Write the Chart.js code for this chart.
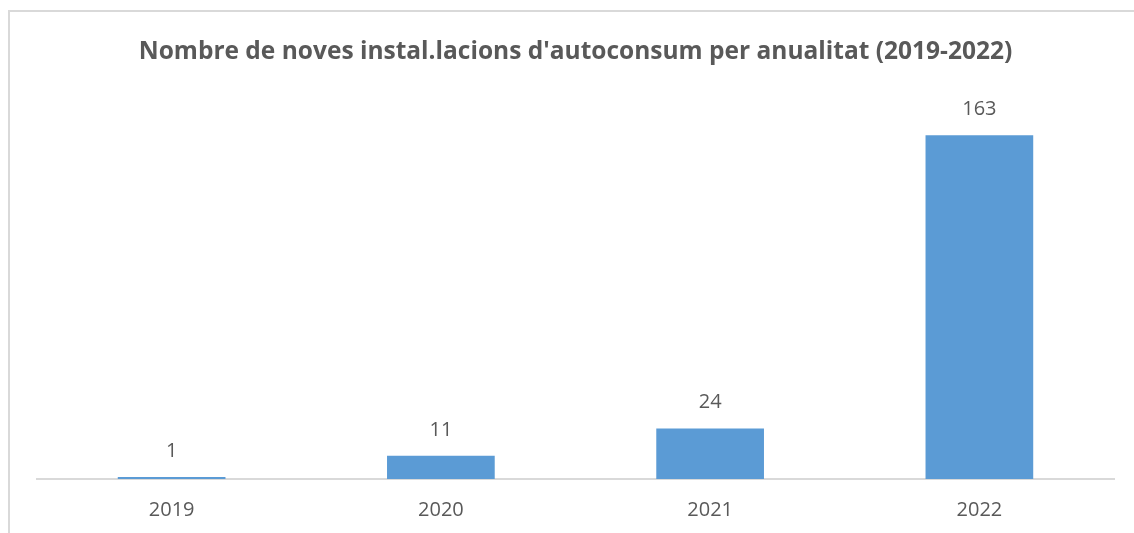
<!DOCTYPE html>
<html>
<head>
<meta charset="utf-8">
<script src="https://cdn.jsdelivr.net/npm/chart.js@4"></script>
<style>
    html, body { margin: 0; padding: 0; background: #fff; }
    #wrap { position: relative; width: 1134px; height: 533px; overflow: hidden; }
    #frame { position: absolute; left: 8px; top: 10px; width: 1140px; height: 522px; border-left: 2px solid #d9d9d9; border-top: 2px solid #d9d9d9; border-bottom: 2px solid #d9d9d9; }
    #chart { position: absolute; left: 0; top: 0; }
</style>
</head>
<body>
<div id="wrap">
    <div id="frame"></div>
    <canvas id="chart" width="1134" height="533"></canvas>
</div>
<script>
const years = ["2019", "2020", "2021", "2022"];
const installs = [1, 11, 24, 163];
const titleText = "Nombre de noves instal.lacions d'autoconsum per anualitat (2019-2022)";

const fontFamily = "'Open Sans', sans-serif";
const textGrey = "#595959";

// etiquetes de valor sobre cada barra
const valueLabels = {
    id: "valueLabels",
    afterDatasetsDraw(chart) {
        const ctx = chart.ctx;
        const meta = chart.getDatasetMeta(0);
        ctx.save();
        ctx.font = "20px " + fontFamily;
        ctx.fillStyle = textGrey;
        ctx.textAlign = "center";
        ctx.textBaseline = "middle";
        meta.data.forEach((bar, i) => {
            ctx.fillText(String(installs[i]), bar.x, bar.y - 26);
        });
        ctx.restore();
    }
};

new Chart(document.getElementById("chart"), {
    type: "bar",
    data: {
        labels: years,
        datasets: [{
            data: installs,
            backgroundColor: "#5b9bd5",
            borderWidth: 0,
            categoryPercentage: 1,
            barPercentage: 0.4
        }]
    },
    options: {
        responsive: false,
        animation: false,
        devicePixelRatio: 1,
        layout: { padding: { left: 37, right: 20, top: 0, bottom: 0 } },
        plugins: {
            legend: { display: false },
            tooltip: { enabled: false },
            title: {
                display: true,
                text: titleText,
                color: textGrey,
                font: { family: fontFamily, size: 24.5, weight: "bold", lineHeight: 1.2 },
                padding: { top: 37, bottom: 33 }
            }
        },
        scales: {
            x: {
                grid: { display: false, drawTicks: false },
                border: { display: true, color: "#d9d9d9", width: 2 },
                ticks: { color: textGrey, font: { family: fontFamily, size: 20 }, padding: 19 },
                afterFit(scale) { scale.height = 54; }
            },
            y: {
                display: false,
                min: 0,
                max: 180
            }
        }
    },
    plugins: [valueLabels]
});
</script>
</body>
</html>
